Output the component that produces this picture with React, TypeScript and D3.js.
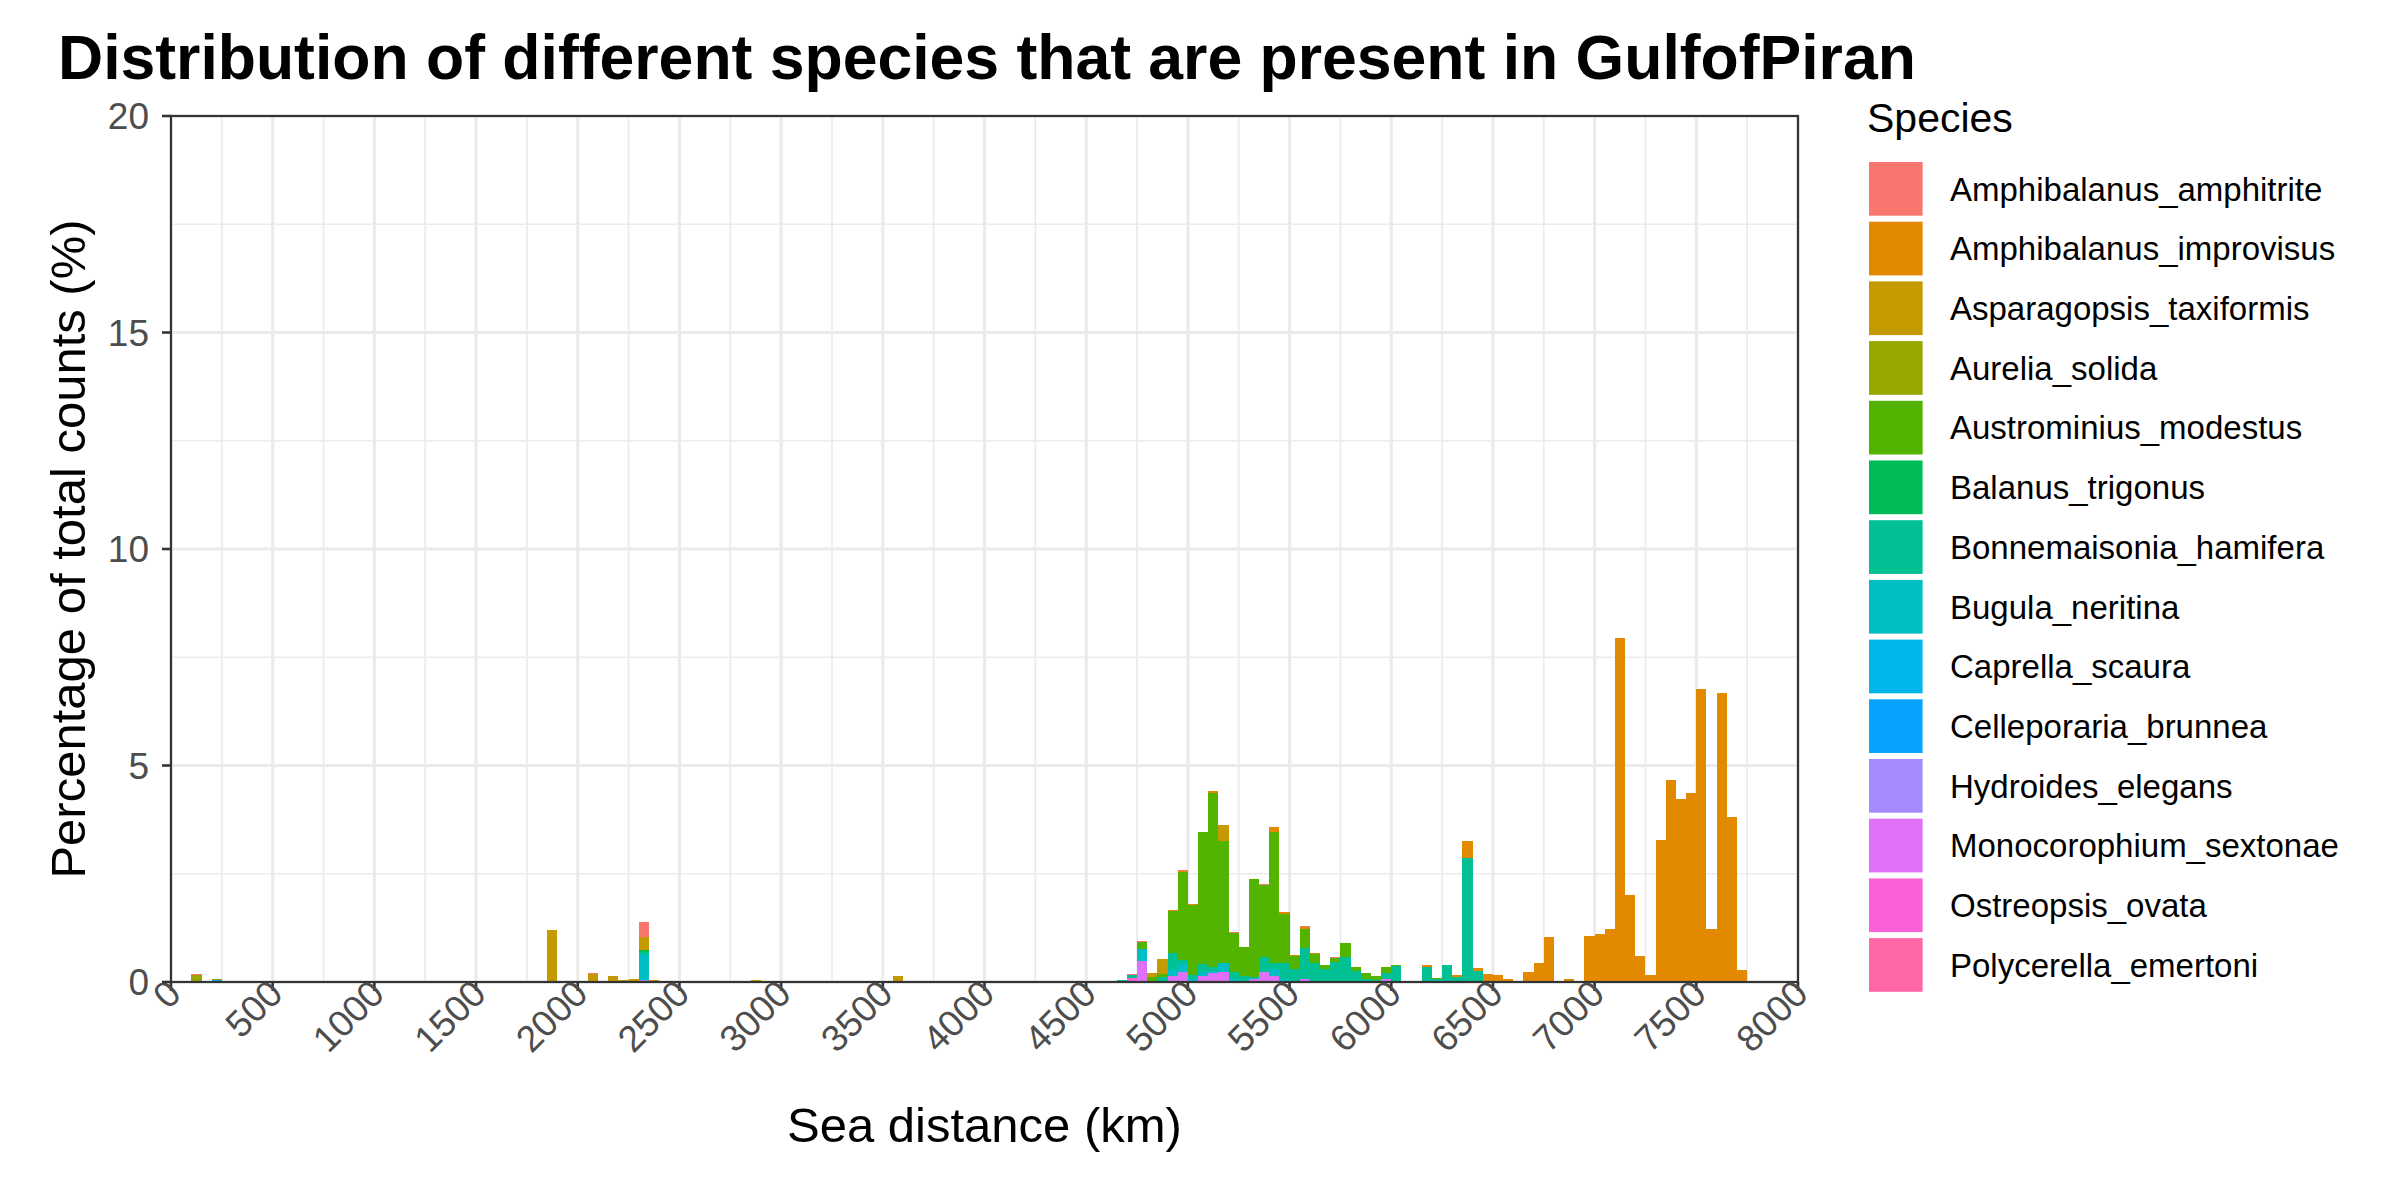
import { useEffect, useRef } from 'react';
import * as d3 from 'd3';

// species in legend order (first one ends up on top of each stack)
const species = [
  'Amphibalanus_amphitrite',
  'Amphibalanus_improvisus',
  'Asparagopsis_taxiformis',
  'Aurelia_solida',
  'Austrominius_modestus',
  'Balanus_trigonus',
  'Bonnemaisonia_hamifera',
  'Bugula_neritina',
  'Caprella_scaura',
  'Celleporaria_brunnea',
  'Hydroides_elegans',
  'Monocorophium_sextonae',
  'Ostreopsis_ovata',
  'Polycerella_emertoni',
];

const speciesColors = [
  '#F8766D', '#E38900', '#C49A00', '#99A800', '#53B400', '#00BC56', '#00C094',
  '#00BFC4', '#00B6EB', '#06A4FF', '#A58AFF', '#DF70F8', '#FB61D7', '#FF66A8',
];

// [bin start (km), % of total counts]
const amphitrite = [[100, 0.02], [1850, 0.02], [2050, 0.02], [2300, 0.33], [4700, 0.02], [4750, 0.02],
  [4950, 0.02], [5200, 0.02], [5350, 0.02], [5550, 0.03], [5700, 0.03]];
const improvisus = [[4900, 0.02], [4950, 0.02], [5000, 0.02], [5100, 0.04], [5400, 0.11], [5450, 0.04],
  [5500, 0.02], [5550, 0.04], [5600, 0.03], [6150, 0.04], [6300, 0.05], [6350, 0.39], [6400, 0.07],
  [6450, 0.18], [6500, 0.17], [6550, 0.08], [6650, 0.22], [6700, 0.42], [6750, 1.03], [6850, 0.08],
  [6950, 1.07], [7000, 1.12], [7050, 1.23], [7100, 7.95], [7150, 2.0], [7200, 0.61], [7250, 0.17],
  [7300, 3.27], [7350, 4.67], [7400, 4.23], [7450, 4.37], [7500, 6.77], [7550, 1.23], [7600, 6.68],
  [7650, 3.82], [7700, 0.27]];
const asparagopsis = [[1850, 1.19], [2050, 0.18], [2150, 0.13], [2200, 0.04], [2250, 0.08], [2300, 0.3],
  [2350, 0.05], [2850, 0.04], [3050, 0.02], [3550, 0.13], [4800, 0.1], [4850, 0.35], [5150, 0.37]];
const aurelia = [[100, 0.16], [200, 0.03]];
const austrominius = [[4750, 0.17], [4800, 0.11], [4850, 0.07], [4900, 0.97], [4950, 2.05], [5000, 1.61],
  [5050, 3.05], [5100, 4.03], [5150, 2.81], [5200, 0.92], [5250, 0.68], [5300, 2.27], [5350, 1.67],
  [5400, 3.02], [5450, 1.14], [5500, 0.32], [5550, 0.44], [5600, 0.22], [5650, 0.08], [5700, 0.09],
  [5750, 0.32], [5800, 0.09], [5850, 0.12], [5900, 0.1], [5950, 0.14], [6000, 0.03], [6100, 0.03],
  [6200, 0.02]];
const balanus = [[2300, 0.05]];
const bonnemaisonia = [[1550, 0.02], [2300, 0.08], [4600, 0.02], [4650, 0.05], [4700, 0.06], [4850, 0.11],
  [4900, 0.4], [4950, 0.08], [5000, 0.09], [5050, 0.2], [5100, 0.08], [5200, 0.15], [5250, 0.13],
  [5300, 0.03], [5350, 0.35], [5400, 0.14], [5450, 0.38], [5500, 0.29], [5550, 0.71], [5600, 0.43],
  [5650, 0.31], [5700, 0.46], [5750, 0.58], [5800, 0.25], [5850, 0.08], [5900, 0.04], [5950, 0.15],
  [6000, 0.36], [6150, 0.35], [6200, 0.07], [6250, 0.39], [6300, 0.12], [6350, 2.87], [6400, 0.25],
  [6700, 0.03]];
const bugula = [[2300, 0.58], [4750, 0.27], [4900, 0.13], [4950, 0.19], [5000, 0.08], [5050, 0.07],
  [5100, 0.06], [5150, 0.22], [5200, 0.07], [5300, 0.02], [5400, 0.16], [5450, 0.06]];
const caprella = [];
const celleporaria = [[200, 0.05]];
const hydroides = [[2300, 0.04]];
const monocorophium = [[4750, 0.49], [4900, 0.14], [4950, 0.23], [5050, 0.15], [5100, 0.2], [5150, 0.23],
  [5300, 0.07], [5350, 0.23], [5400, 0.14], [5550, 0.08], [5950, 0.06]];
const ostreopsis = [[4700, 0.1]];
const polycerella = [];

const speciesValues = [amphitrite, improvisus, asparagopsis, aurelia, austrominius, balanus, bonnemaisonia,
  bugula, caprella, celleporaria, hydroides, monocorophium, ostreopsis, polycerella];

const binWidth = 50;
const xTicks = d3.range(0, 8001, 500);
const xMinor = d3.range(250, 8000, 500);
const yTicks = [0, 5, 10, 15, 20];
const yMinor = [2.5, 7.5, 12.5, 17.5];

const FONT = '"Liberation Sans", Arial, sans-serif';

const App = () => {
  const svgRef = useRef(null);

  useEffect(() => {
    const width = 2400;
    const height = 1200;
    const panel = { left: 171, right: 1798, top: 116, bottom: 982 };

    const svg = d3.select(svgRef.current)
      .attr('width', width)
      .attr('height', height);

    svg.selectAll('*').remove();

    svg.append('rect').attr('width', width).attr('height', height).attr('fill', 'white');

    const x = d3.scaleLinear().domain([0, 8000]).range([panel.left, panel.right]);
    const y = d3.scaleLinear().domain([0, 20]).range([panel.bottom, panel.top]);

    // grid lines
    const grid = svg.append('g').attr('stroke', '#EBEBEB');
    grid.selectAll('line.xminor').data(xMinor).join('line')
      .attr('x1', d => x(d)).attr('x2', d => x(d))
      .attr('y1', panel.top).attr('y2', panel.bottom).attr('stroke-width', 1.7);
    grid.selectAll('line.yminor').data(yMinor).join('line')
      .attr('y1', d => y(d)).attr('y2', d => y(d))
      .attr('x1', panel.left).attr('x2', panel.right).attr('stroke-width', 1.7);
    grid.selectAll('line.xmajor').data(xTicks).join('line')
      .attr('x1', d => x(d)).attr('x2', d => x(d))
      .attr('y1', panel.top).attr('y2', panel.bottom).attr('stroke-width', 3.2);
    grid.selectAll('line.ymajor').data(yTicks).join('line')
      .attr('y1', d => y(d)).attr('y2', d => y(d))
      .attr('x1', panel.left).attr('x2', panel.right).attr('stroke-width', 3.2);

    // stacked histogram
    const bins = d3.range(0, 8000, binWidth);
    const table = bins.map(b => {
      const row = { bin: b };
      species.forEach((s, i) => {
        const hit = speciesValues[i].find(v => v[0] === b);
        row[s] = hit ? hit[1] : 0;
      });
      return row;
    });

    const series = d3.stack().keys([...species].reverse())(table);
    const color = d3.scaleOrdinal().domain(species).range(speciesColors);

    svg.append('g')
      .attr('shape-rendering', 'crispEdges')
      .selectAll('g')
      .data(series)
      .join('g')
      .attr('fill', d => color(d.key))
      .selectAll('rect')
      .data(d => d.filter(p => p[1] > p[0]))
      .join('rect')
      .attr('x', d => x(d.data.bin))
      .attr('width', d => x(d.data.bin + binWidth) - x(d.data.bin))
      .attr('y', d => y(d[1]))
      .attr('height', d => y(d[0]) - y(d[1]));

    // panel border
    svg.append('rect')
      .attr('x', panel.left).attr('y', panel.top)
      .attr('width', panel.right - panel.left).attr('height', panel.bottom - panel.top)
      .attr('fill', 'none').attr('stroke', '#333333').attr('stroke-width', 2.2);

    // x ticks + labels
    const xAxis = svg.append('g');
    xAxis.selectAll('line').data(xTicks).join('line')
      .attr('x1', d => x(d)).attr('x2', d => x(d))
      .attr('y1', panel.bottom).attr('y2', panel.bottom + 9)
      .attr('stroke', '#333333').attr('stroke-width', 2.6);
    xAxis.selectAll('text').data(xTicks).join('text')
      .attr('transform', d => `translate(${x(d) + 12}, ${panel.bottom + 14}) rotate(-45)`)
      .attr('text-anchor', 'end')
      .attr('font-family', FONT)
      .attr('font-size', 37)
      .attr('fill', '#4D4D4D')
      .text(d => d);

    // y ticks + labels
    const yAxis = svg.append('g');
    yAxis.selectAll('line').data(yTicks).join('line')
      .attr('y1', d => y(d)).attr('y2', d => y(d))
      .attr('x1', panel.left - 9).attr('x2', panel.left)
      .attr('stroke', '#333333').attr('stroke-width', 2.6);
    yAxis.selectAll('text').data(yTicks).join('text')
      .attr('x', panel.left - 22)
      .attr('y', d => y(d))
      .attr('dy', '0.36em')
      .attr('text-anchor', 'end')
      .attr('font-family', FONT)
      .attr('font-size', 37)
      .attr('fill', '#4D4D4D')
      .text(d => d);

    // axis titles
    svg.append('text')
      .attr('x', (panel.left + panel.right) / 2)
      .attr('y', 1142)
      .attr('text-anchor', 'middle')
      .attr('font-family', FONT)
      .attr('font-size', 49)
      .attr('fill', 'black')
      .text('Sea distance (km)');

    svg.append('text')
      .attr('transform', `translate(85, ${(panel.top + panel.bottom) / 2}) rotate(-90)`)
      .attr('text-anchor', 'middle')
      .attr('font-family', FONT)
      .attr('font-size', 49)
      .attr('fill', 'black')
      .text('Percentage of total counts (%)');

    // title
    svg.append('text')
      .attr('x', 58)
      .attr('y', 79)
      .attr('font-family', FONT)
      .attr('font-weight', 'bold')
      .attr('font-size', 62.5)
      .attr('fill', 'black')
      .text('Distribution of different species that are present in GulfofPiran');

    // legend
    const legend = svg.append('g');
    legend.append('text')
      .attr('x', 1867)
      .attr('y', 132)
      .attr('font-family', FONT)
      .attr('font-size', 41)
      .attr('fill', 'black')
      .text('Species');

    const pitch = 59.7;
    const item = legend.selectAll('g.item').data(species).join('g')
      .attr('transform', (d, i) => `translate(1869, ${162 + i * pitch})`);
    item.append('rect')
      .attr('width', 53.6).attr('height', 53.7)
      .attr('fill', d => color(d));
    item.append('text')
      .attr('x', 81)
      .attr('y', 26.8)
      .attr('dy', '0.36em')
      .attr('font-family', FONT)
      .attr('font-size', 33)
      .attr('fill', 'black')
      .text(d => d);
  }, []);

  return <svg ref={svgRef} style={{ position: 'absolute', left: 0, top: 0 }}></svg>;
};

export default App;
